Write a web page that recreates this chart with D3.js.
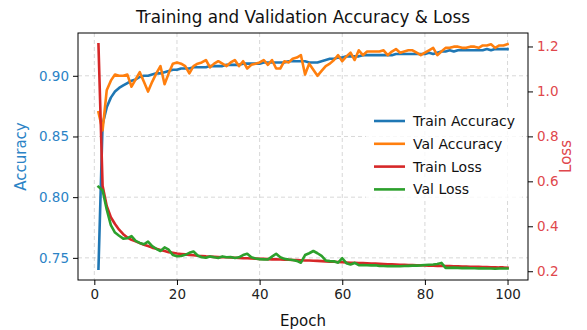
<!DOCTYPE html>
<html><head><meta charset="utf-8">
<script src="https://cdn.jsdelivr.net/npm/d3@7"></script>
<style>
body{margin:0;background:#fff;}
svg{display:block;font-family:"DejaVu Sans",sans-serif;}
</style></head><body>
<svg id="chart" width="587" height="330"></svg>
<script>
const epochs = d3.range(1, 101);
const trainAcc = [0.741,0.860,0.874,0.882,0.887,0.890,0.892,0.894,0.896,0.897,
0.899,0.900,0.900,0.901,0.902,0.902,0.903,0.904,0.905,0.905,
0.906,0.906,0.906,0.907,0.907,0.907,0.907,0.908,0.908,0.908,
0.908,0.909,0.909,0.909,0.909,0.910,0.910,0.910,0.910,0.910,
0.911,0.911,0.911,0.911,0.911,0.911,0.912,0.912,0.912,0.912,
0.912,0.911,0.911,0.911,0.912,0.913,0.914,0.914,0.915,0.915,
0.916,0.916,0.916,0.916,0.917,0.917,0.917,0.917,0.917,0.917,
0.917,0.917,0.918,0.918,0.918,0.918,0.918,0.918,0.918,0.918,
0.919,0.918,0.919,0.920,0.920,0.921,0.920,0.921,0.921,0.921,
0.921,0.921,0.921,0.921,0.922,0.921,0.922,0.922,0.922,0.922];
const valAcc = [0.870,0.855,0.888,0.896,0.901,0.900,0.900,0.901,0.891,0.897,
0.903,0.895,0.887,0.895,0.902,0.908,0.893,0.902,0.910,0.911,
0.910,0.908,0.902,0.908,0.910,0.911,0.913,0.907,0.910,0.912,
0.910,0.908,0.911,0.913,0.908,0.912,0.906,0.909,0.910,0.911,
0.913,0.909,0.913,0.906,0.906,0.912,0.911,0.914,0.915,0.917,
0.901,0.910,0.905,0.900,0.904,0.908,0.910,0.913,0.917,0.912,
0.916,0.919,0.913,0.921,0.917,0.920,0.920,0.920,0.920,0.921,
0.917,0.920,0.922,0.919,0.920,0.921,0.921,0.919,0.917,0.919,
0.921,0.923,0.917,0.920,0.923,0.923,0.924,0.924,0.923,0.923,
0.924,0.924,0.923,0.925,0.925,0.926,0.923,0.925,0.925,0.926];
const trainLoss = [1.210,0.580,0.490,0.440,0.410,0.385,0.365,0.350,0.340,0.333,
0.325,0.318,0.312,0.305,0.300,0.295,0.290,0.285,0.282,0.279,
0.277,0.275,0.273,0.271,0.269,0.268,0.266,0.265,0.264,0.263,
0.262,0.262,0.261,0.260,0.259,0.258,0.258,0.257,0.256,0.255,
0.255,0.254,0.253,0.253,0.252,0.251,0.251,0.250,0.250,0.249,
0.248,0.248,0.247,0.246,0.245,0.244,0.243,0.242,0.241,0.240,
0.239,0.238,0.238,0.237,0.236,0.235,0.234,0.234,0.233,0.232,
0.231,0.231,0.230,0.229,0.229,0.228,0.228,0.227,0.227,0.226,
0.225,0.225,0.224,0.224,0.223,0.223,0.222,0.222,0.221,0.221,
0.220,0.220,0.220,0.219,0.219,0.218,0.218,0.217,0.217,0.216];
const valLoss = [0.576,0.560,0.475,0.405,0.372,0.358,0.345,0.347,0.356,0.335,
0.326,0.320,0.332,0.312,0.300,0.290,0.306,0.296,0.272,0.267,
0.268,0.273,0.282,0.288,0.270,0.262,0.260,0.266,0.262,0.259,
0.266,0.262,0.263,0.259,0.262,0.272,0.278,0.262,0.257,0.254,
0.253,0.252,0.265,0.278,0.262,0.255,0.252,0.250,0.246,0.238,
0.272,0.280,0.290,0.280,0.268,0.248,0.245,0.244,0.238,0.258,
0.236,0.230,0.237,0.227,0.228,0.227,0.226,0.227,0.224,0.223,
0.222,0.223,0.222,0.222,0.223,0.224,0.225,0.225,0.226,0.228,
0.229,0.230,0.232,0.237,0.215,0.215,0.216,0.215,0.214,0.215,
0.213,0.213,0.212,0.213,0.212,0.212,0.211,0.212,0.212,0.212];
const xTicks = [0,20,40,60,80,100];
const accTicks = [0.75,0.80,0.85,0.90];
const lossTicks = [0.2,0.4,0.6,0.8,1.0,1.2];
const seriesNames = ["Train Accuracy","Val Accuracy","Train Loss","Val Loss"];
const seriesColors = ["#1f77b4","#ff7f0e","#d62728","#2ca02c"];

const svg = d3.select("#chart");
const L = 78, R = 528, T = 33, B = 280;

function padDomain(arrs){
  const lo = d3.min(arrs, a => d3.min(a)), hi = d3.max(arrs, a => d3.max(a));
  const m = (hi - lo) * 0.05; return [lo - m, hi + m];
}
const x = d3.scaleLinear().domain([1 - 99*0.05, 100 + 99*0.05]).range([L, R]);
const yA = d3.scaleLinear().domain(padDomain([trainAcc, valAcc])).range([B, T]);
const yL = d3.scaleLinear().domain(padDomain([trainLoss, valLoss])).range([B, T]);

// grid
const grid = svg.append("g").attr("stroke","#b0b0b0").attr("stroke-opacity",0.55)
  .attr("stroke-dasharray","4,3").attr("stroke-width",0.9);
xTicks.forEach(t => grid.append("line").attr("x1",x(t)).attr("x2",x(t)).attr("y1",T).attr("y2",B));
accTicks.forEach(t => grid.append("line").attr("x1",L).attr("x2",R).attr("y1",yA(t)).attr("y2",yA(t)));

const lineA = yS => d3.line().x((d,i)=>x(epochs[i])).y(d=>yS(d));
const plot = (data, ys, color) => svg.append("path").datum(data)
  .attr("fill","none").attr("stroke",color).attr("stroke-width",2.6)
  .attr("stroke-linejoin","round").attr("stroke-linecap","square").attr("d", lineA(ys));

plot(trainAcc, yA, seriesColors[0]);
plot(valAcc, yA, seriesColors[1]);
plot(trainLoss, yL, seriesColors[2]);
plot(valLoss, yL, seriesColors[3]);

// frame
svg.append("rect").attr("x",L).attr("y",T).attr("width",R-L).attr("height",B-T)
  .attr("fill","none").attr("stroke","#000").attr("stroke-width",1);

// axes
const fs = 13.5;
const xAxis = svg.append("g").attr("transform",`translate(0,${B})`)
  .call(d3.axisBottom(x).tickValues(xTicks).tickSize(5).tickPadding(4).tickFormat(d3.format("d")));
const lAxis = svg.append("g").attr("transform",`translate(${L},0)`)
  .call(d3.axisLeft(yA).tickValues(accTicks).tickSize(5).tickPadding(4).tickFormat(d3.format(".2f")));
const rAxis = svg.append("g").attr("transform",`translate(${R},0)`)
  .call(d3.axisRight(yL).tickValues(lossTicks).tickSize(5).tickPadding(4).tickFormat(d3.format(".1f")));
[xAxis,lAxis,rAxis].forEach(g => {
  g.select(".domain").remove();
  g.selectAll("text").attr("font-size",fs).attr("font-family","DejaVu Sans");
  g.selectAll("line").attr("stroke","#000");
});
xAxis.selectAll("text").attr("fill","#222");
lAxis.selectAll("text").attr("fill","#2b83c6");
rAxis.selectAll("text").attr("fill","#e0474c");

// labels
svg.append("text").attr("x",(L+R)/2).attr("y",23).attr("text-anchor","middle")
  .attr("font-size",16.8).attr("fill","#111").text("Training and Validation Accuracy & Loss");
svg.append("text").attr("x",(L+R)/2).attr("y",326).attr("text-anchor","middle")
  .attr("font-size",15).attr("fill","#111").text("Epoch");
svg.append("text").attr("transform",`translate(26,${(T+B)/2}) rotate(-90)`).attr("text-anchor","middle")
  .attr("font-size",15).attr("fill","#2b83c6").text("Accuracy");
svg.append("text").attr("transform",`translate(571,${(T+B)/2}) rotate(-90)`).attr("text-anchor","middle")
  .attr("font-size",15).attr("fill","#e0474c").text("Loss");

// legend
const lg = svg.append("g").attr("transform","translate(366,108)");
lg.append("rect").attr("x",0).attr("y",0).attr("width",156).attr("height",92)
  .attr("fill","#fff").attr("fill-opacity",0.8);
seriesNames.forEach((n,i) => {
  const yy = 13 + i*22.8;
  lg.append("line").attr("x1",8).attr("x2",39).attr("y1",yy).attr("y2",yy)
    .attr("stroke",seriesColors[i]).attr("stroke-width",2.6);
  lg.append("text").attr("x",47).attr("y",yy+5).attr("font-size",14).attr("fill","#111").text(n);
});
</script></body></html>
